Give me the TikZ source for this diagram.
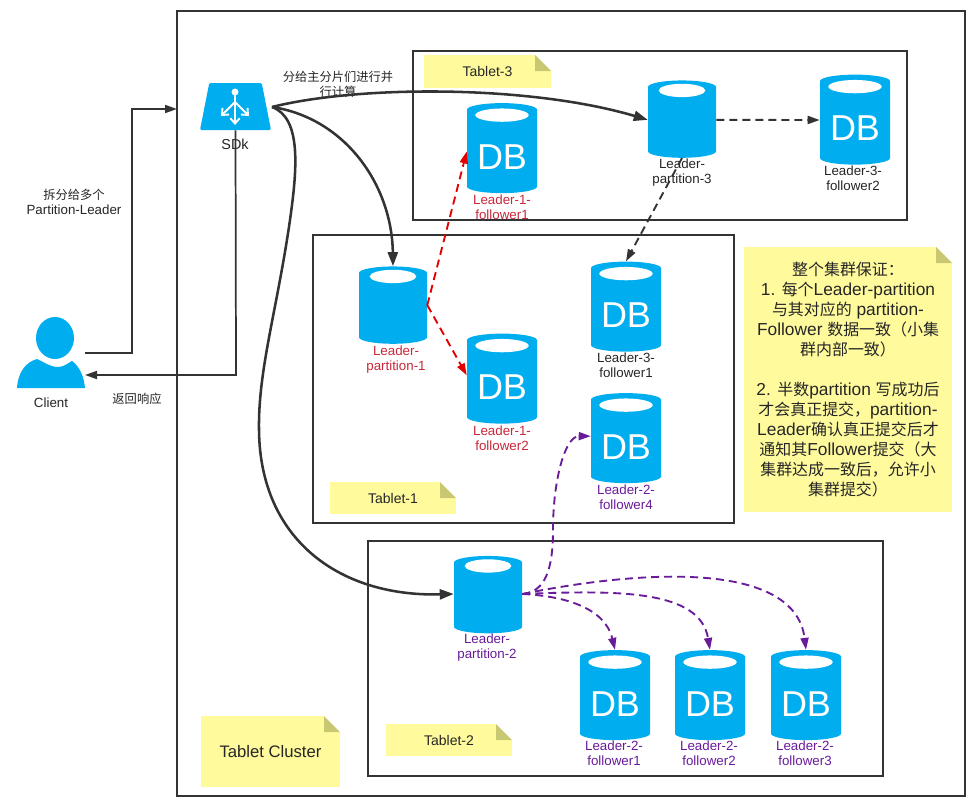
\documentclass[tikz,border=0pt]{standalone}
\usepackage{fontspec}
\setmainfont{Liberation Sans}
\newfontfamily\cjk[Scale=0.92]{Noto Sans CJK SC}
\usetikzlibrary{arrows.meta,shapes.geometric}
\definecolor{dbblue}{HTML}{00AEEF}
\definecolor{notey}{HTML}{FFFB9D}
\definecolor{foldy}{HTML}{C8C873}
\definecolor{linegray}{HTML}{333333}
\definecolor{redtext}{HTML}{C9283A}
\definecolor{purpletext}{HTML}{6A1B9A}
\tikzset{
  group box/.style={draw=linegray,line width=1.1pt},
  note box/.style={rectangle,fill=notey,inner sep=0pt,align=center,text=black!85,
    path picture={
      \fill[white] ([xshift=-12pt]path picture bounding box.north east) -- (path picture bounding box.north east) -- ([yshift=-12pt]path picture bounding box.north east) -- cycle;
      \fill[foldy] ([xshift=-12pt]path picture bounding box.north east) -- ([xshift=-12pt,yshift=-12pt]path picture bounding box.north east) -- ([yshift=-12pt]path picture bounding box.north east) -- cycle;
    }},
  db base/.style={cylinder,shape border rotate=90,shape aspect=0.26,fill=dbblue,draw=none,inner sep=0pt,text=white,font=\fontsize{27}{27}\selectfont},
  leader node/.style={db base,minimum width=51pt,minimum height=58pt,
    path picture={\fill[white] ([yshift=-7.5pt]path picture bounding box.north) ellipse (17.5pt and 5pt);}},
  db node/.style={db base,minimum width=52.5pt,minimum height=67.5pt,
    path picture={\fill[white] ([yshift=-9pt]path picture bounding box.north) ellipse (20pt and 5pt);}},
  small label/.style={align=center,font=\fontsize{10}{11.25}\selectfont,inner sep=0pt,text=black!85},
  red label/.style={small label,text=redtext},
  purple label/.style={small label,text=purpletext},
  main edge/.style={-{Triangle[length=10.5pt,width=7.5pt]},draw=linegray,line width=1.9pt},
  thin edge/.style={-{Triangle[length=9pt,width=6pt]},draw=linegray,line width=1.3pt},
  dash edge/.style={thin edge,line width=1.4pt,dash pattern=on 6pt off 3.75pt},
  red edge/.style={dash edge,draw=red!90!black},
  purple edge/.style={dash edge,draw=purpletext},
  sdk icon/.style={white,line width=1.4pt},
}
\newcommand{\dbtext}{\smash{\raisebox{-13.2pt}{DB}}}
\newcommand{\notext}{\smash{\phantom{DB}}}

\begin{document}
\begin{tikzpicture}[x=0.75pt,y=-0.75pt]
  \useasboundingbox[fill=white] (0,0) rectangle (974,810);
  % groups
  \node[group box,minimum width=591pt,minimum height=589pt,inner sep=0pt] (cluster) at (571,403.5) {};
  \node[group box,minimum width=370.5pt,minimum height=126.75pt,inner sep=0pt] (tablet3) at (660,135.5) {};
  \node[group box,minimum width=315.75pt,minimum height=216pt,inner sep=0pt] (tablet1) at (523.5,379) {};
  \node[group box,minimum width=386.25pt,minimum height=176.25pt,inner sep=0pt] (tablet2) at (625.5,658.5) {};
  % notes
  \node[note box,minimum width=95.25pt,minimum height=24.75pt,font=\fontsize{10.5}{11}\selectfont] (note3) at (487.5,71.5) {Tablet-3};
  \node[note box,minimum width=94.5pt,minimum height=24pt,font=\fontsize{10.5}{11}\selectfont] (note1) at (393,498) {Tablet-1};
  \node[note box,minimum width=94.5pt,minimum height=24pt,font=\fontsize{10.5}{11}\selectfont] (note2) at (449,740) {Tablet-2};
  \node[note box,minimum width=104.25pt,minimum height=53.25pt,font=\fontsize{12.5}{13}\selectfont] (notecluster) at (270.5,751.5) {Tablet Cluster};
  \node[note box,minimum width=156pt,minimum height=198.75pt,font=\fontsize{13}{15}\selectfont] (notebig) at (848,379.5) {
    {\cjk 整个集群保证：}\\
    1. {\cjk 每个}Leader-partition\\
    {\cjk 与其对应的} partition-\\
    Follower {\cjk 数据一致（小集}\\
    {\cjk 群内部一致）}\\[15pt]
    2. {\cjk 半数}partition {\cjk 写成功后}\\
    {\cjk 才会真正提交，}partition-\\
    Leader{\cjk 确认真正提交后才}\\
    {\cjk 通知其}Follower{\cjk 提交（大}\\
    {\cjk 集群达成一致后，允许小}\\
    {\cjk 集群提交）}};
  % client and sdk
  \node[minimum width=51pt,minimum height=52pt,inner sep=0pt] (client) at (51,353) {};
  \fill[dbblue] (55,338) ellipse (14.25pt and 15.75pt);
  \fill[dbblue] (17,388) .. controls (18,372) and (26,362) .. (37,359) .. controls (44,362) and (50,367) .. (58,367) .. controls (64,367) and (68,363) .. (72,361) .. controls (79,366) and (84,376) .. (85,388) -- cycle;
  \node[small label] (clientlabel) at (51,403) {Client};
  \node[trapezium,trapezium stretches=true,trapezium left angle=80,trapezium right angle=80,fill=dbblue,rounded corners=1pt,minimum width=53.25pt,minimum height=35.25pt,inner sep=1pt] (sdk) at (235.5,106.5) {};
  \fill[white] (235,92) circle (2.6pt);
  \draw[sdk icon,-{Straight Barb[length=4pt,width=7pt]}] (235,92) -- (235,125);
  \draw[sdk icon,-{Straight Barb[length=4pt,width=7pt]}] (235,102) -- (221,116);
  \draw[sdk icon,-{Straight Barb[length=4pt,width=7pt]}] (235,102) -- (249,116);
  \node[small label,font=\fontsize{10.8}{12}\selectfont] (sdklabel) at (235,144) {SDk};
  % cylinders
  \node[leader node] (leader3) at (682,122.5) {\notext};
  \node[leader node] (leader1) at (393,308.5) {\notext};
  \node[leader node] (leader2) at (488,598) {\notext};
  \node[db node] (f11) at (502,151.5) {\dbtext};
  \node[db node] (f32) at (855,123) {\dbtext};
  \node[db node] (f31) at (626,310) {\dbtext};
  \node[db node] (f12) at (502,382) {\dbtext};
  \node[db node] (f24) at (626,441.5) {\dbtext};
  \node[db node] (f21) at (615,698.5) {\dbtext};
  \node[db node] (f22) at (710,698.5) {\dbtext};
  \node[db node] (f23) at (806,698.5) {\dbtext};
  % labels
  \node[small label] (leader3label) at (682,173) {Leader-\\partition-3};
  \node[small label] (f32label) at (853,178) {Leader-3-\\follower2};
  \node[red label] (f11label) at (502,207) {Leader-1-\\follower1};
  \node[red label] (leader1label) at (396,359.5) {Leader-\\partition-1};
  \node[red label] (f12label) at (502,438) {Leader-1-\\follower2};
  \node[small label] (f31label) at (626,365) {Leader-3-\\follower1};
  \node[purple label] (f24label) at (626,497) {Leader-2-\\follower4};
  \node[purple label] (leader2label) at (487,648) {Leader-\\partition-2};
  \node[purple label] (f21label) at (614,753) {Leader-2-\\follower1};
  \node[purple label] (f22label) at (709,753) {Leader-2-\\follower2};
  \node[purple label] (f23label) at (805,753) {Leader-2-\\follower3};
  \node[small label] (splitlabel) at (74,201.5) {{\cjk 拆分给多个}\\Partition-Leader};
  \node[small label] (parlabel) at (338,84.5) {{\cjk 分给主分片们进行并}\\{\cjk 行计算}};
  \node[small label] (backlabel) at (137,399) {\cjk 返回响应};
  % connectors
  \coordinate (clusterin) at (177,109);
  \coordinate (sdkout) at (272,107);
  \coordinate (clientback) at (85,375);
  \draw[thin edge] (client.east) -- (132,353) -- (132,109) -- (clusterin);
  \draw[thin edge] (sdk.south) -- (236,375) -- (clientback);
  \draw[main edge] (sdkout) .. controls (360,85) and (530,85) .. ([yshift=2pt]leader3.west);
  \draw[main edge] (sdkout) .. controls (345,118) and (392,185) .. (leader1.north);
  \draw[main edge] (sdkout) .. controls (302,118) and (297,170) .. (290,220) .. controls (277,310) and (258,370) .. (259,430) .. controls (260,540) and (340,597) .. ([yshift=3pt]leader2.west);
  \draw[dash edge] ([yshift=2pt]leader3.east) -- ([yshift=2.25pt]f32.west);
  \draw[dash edge] (leader3.south) -- (f31.north);
  \draw[red edge] ([yshift=2.5pt]leader1.east) -- (f11.west);
  \draw[red edge] ([yshift=2.5pt]leader1.east) -- ([yshift=5pt]f12.west);
  \draw[purple edge] ([yshift=3pt]leader2.east) .. controls (545,592) and (553,570) .. (553,530) .. controls (553,480) and (565,436) .. ([yshift=4pt]f24.west);
  \draw[purple edge] ([yshift=3pt]leader2.east) .. controls (565,596) and (605,608) .. (f21.north);
  \draw[purple edge] ([yshift=3pt]leader2.east) .. controls (620,590) and (700,590) .. (f22.north);
  \draw[purple edge] ([yshift=3pt]leader2.east) .. controls (640,570) and (795,560) .. (f23.north);
\end{tikzpicture}
\end{document}
